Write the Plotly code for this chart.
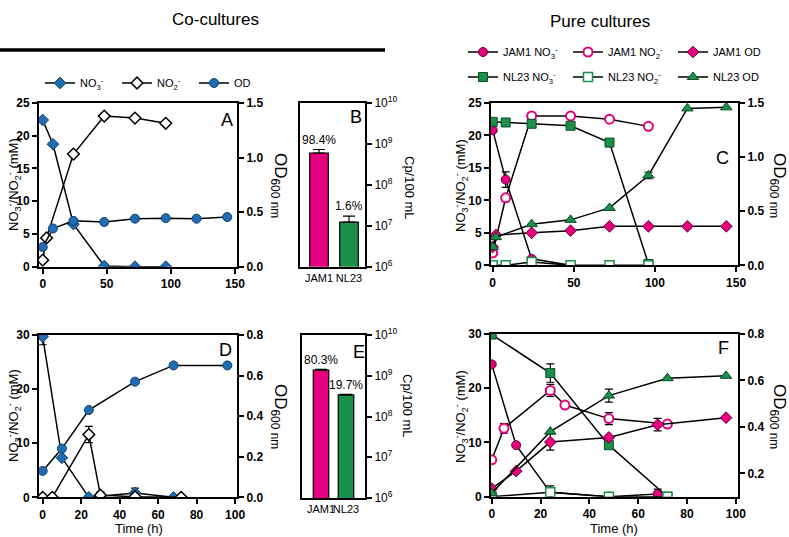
import plotly.graph_objects as go

W, H = 789, 537
MAG = "#E5007D"
GRN = "#1B9048"
BLU = "#1F6DB3"
FONT = "Arial, Liberation Sans, sans-serif"

# --- panel A: co-culture, first run
a_t_no3 = [0, 8, 24, 48, 72, 96]
a_no3 = [22.4, 18.7, 6.5, 0.1, 0.0, 0.0]
a_t_no2 = [0, 3, 24, 48, 72, 96]
a_no2 = [1.0, 4.4, 17.2, 23.0, 22.7, 21.9]
a_t_od = [0, 8, 24, 48, 72, 96, 120, 144]
a_od = [0.18, 0.35, 0.42, 0.41, 0.44, 0.445, 0.44, 0.455]

# --- panels B / E: qPCR copies
strains = ["JAM1", "NL23"]
b_cp = [6.0e8, 1.23e7]
b_err = [1.3e8, 5.0e6]
b_pct = ["98.4%", "1.6%"]
e_cp = [1.38e9, 3.4e8]
e_err = [0.06e9, 0.12e8]
e_pct = ["80.3%", "19.7%"]

# --- panel C: pure cultures, first run
c_t = [0, 8, 24, 48, 72, 96]
c_jam_no3_t = [0, 8, 24, 48]
c_jam_no3 = [20.8, 13.2, 1.0, 0.0]
c_jam_no3_err = [0, 1.2, 0, 0]
c_jam_no2 = [1.9, 10.4, 23.0, 23.0, 22.5, 21.4]
c_nl_no3 = [22.1, 22.0, 21.8, 21.5, 18.9, 0.2]
c_nl_no2 = [0, 0, 0.5, 0, 0, 0]
c_t_od = [0, 2, 24, 48, 72, 96, 120, 144]
c_jam_od = [0.17, 0.28, 0.30, 0.32, 0.36, 0.36, 0.36, 0.36]
c_nl_od = [0.17, 0.26, 0.38, 0.42, 0.53, 0.83, 1.45, 1.46]
c_nl_od_err = [0, 0, 0, 0, 0, 0.03, 0, 0]

# --- panel D: co-culture, second run
d_t_no3 = [0, 10, 24, 48, 68]
d_no3 = [29.7, 7.3, 0.0, 0.8, 0.0]
d_no3_err = [1.5, 0, 0, 0.9, 0]
d_t_no2 = [0, 5, 24, 30, 48, 72]
d_no2 = [0, 0, 11.6, 0.4, 0.1, 0]
d_no2_err = [0, 0, 1.5, 0.6, 0, 0]
d_t_od = [0, 10, 24, 48, 68, 96]
d_od = [0.13, 0.24, 0.43, 0.57, 0.65, 0.65]

# --- panel F: pure cultures, second run
f_jam_no3_t = [0, 10, 24, 48, 68]
f_jam_no3 = [24.4, 9.5, 0.8, 0.0, 0.5]
f_jam_no3_err = [0, 0, 0, 0, 0.9]
f_jam_no2_t = [0, 5, 24, 30, 48, 72]
f_jam_no2 = [6.8, 12.6, 19.6, 16.9, 14.4, 13.4]
f_jam_no2_err = [0, 0.9, 1.1, 0, 1.1, 0]
f_jam_od_t = [0, 10, 24, 48, 68, 96]
f_jam_od = [0.135, 0.21, 0.335, 0.355, 0.41, 0.44]
f_jam_od_err = [0, 0, 0.035, 0, 0.027, 0]
f_nl_t = [0, 24, 48, 72]
f_nl_no3 = [29.9, 22.8, 9.5, 0.0]
f_nl_no3_err = [0, 1.7, 0, 0]
f_nl_no2 = [0, 0.8, 0, 0]
f_nl_no2_err = [0, 1.2, 0, 0]
f_nl_od_t = [0, 24, 48, 72, 96]
f_nl_od = [0.115, 0.38, 0.535, 0.61, 0.62]
f_nl_od_err = [0, 0, 0.028, 0, 0]

NO3 = "NO<sub>3</sub><sup>-</sup>"
NO2 = "NO<sub>2</sub><sup>-</sup>"


def px_x(a, b):
    return [a / W, b / W]


def px_y(top, bottom):
    return [1 - bottom / H, 1 - top / H]


def series(x, y, xa, ya, symbol, fill, edge, ew=1, size=9, name=None, legend=None, err=None):
    tr = go.Scatter(
        x=x, y=y, xaxis=xa, yaxis=ya, mode="lines+markers", name=name,
        showlegend=name is not None, line=dict(color="black", width=1.5),
        marker=dict(symbol=symbol, size=size, color=fill, line=dict(color=edge, width=ew)),
    )
    if legend:
        tr.legend = legend
    if err is not None:
        tr.error_y = dict(type="data", array=err, color="black", thickness=1.2, width=4)
    return tr


fig = go.Figure()

# A
fig.add_trace(series(a_t_no3, a_no3, "x", "y", "diamond", BLU, "#123f6b", name=NO3, legend="legend"))
fig.add_trace(series(a_t_no2, a_no2, "x", "y", "diamond", "white", "black", ew=1.5, name=NO2, legend="legend"))
fig.add_trace(series(a_t_od, a_od, "x", "y2", "circle", BLU, "#123f6b", name="OD", legend="legend"))

# B / E
for xa, ya, vals, err in [("x2", "y3", b_cp, b_err), ("x5", "y8", e_cp, e_err)]:
    fig.add_trace(go.Bar(
        x=strains, y=vals, xaxis=xa, yaxis=ya, showlegend=False,
        marker=dict(color=[MAG, GRN], line=dict(color="black", width=1.2)),
        error_y=dict(type="data", array=err, arrayminus=[0, 0], symmetric=False,
                     color="black", thickness=1.2, width=6),
    ))

# C
fig.add_trace(series(c_jam_no3_t, c_jam_no3, "x3", "y4", "circle", MAG, "#6a0038",
                     name="JAM1 " + NO3, legend="legend2", err=c_jam_no3_err))
fig.add_trace(series(c_t, c_jam_no2, "x3", "y4", "circle", "white", MAG, ew=2,
                     name="JAM1 " + NO2, legend="legend2"))
fig.add_trace(series(c_t, c_nl_no3, "x3", "y4", "square", GRN, "#0d4a25",
                     name="NL23 " + NO3, legend="legend3"))
fig.add_trace(series(c_t, c_nl_no2, "x3", "y4", "square", "white", GRN, ew=1.5,
                     name="NL23 " + NO2, legend="legend3"))
fig.add_trace(series(c_t_od, c_jam_od, "x3", "y5", "diamond", MAG, "#6a0038",
                     name="JAM1 OD", legend="legend2"))
fig.add_trace(series(c_t_od, c_nl_od, "x3", "y5", "triangle-up", GRN, "#0d4a25", size=10,
                     name="NL23 OD", legend="legend3", err=c_nl_od_err))

# D
fig.add_trace(series(d_t_no3, d_no3, "x4", "y6", "diamond", BLU, "#123f6b", err=d_no3_err))
fig.add_trace(series(d_t_no2, d_no2, "x4", "y6", "diamond", "white", "black", ew=1.5, err=d_no2_err))
fig.add_trace(series(d_t_od, d_od, "x4", "y7", "circle", BLU, "#123f6b"))

# F
fig.add_trace(series(f_jam_no3_t, f_jam_no3, "x6", "y9", "circle", MAG, "#6a0038", err=f_jam_no3_err))
fig.add_trace(series(f_jam_no2_t, f_jam_no2, "x6", "y9", "circle", "white", MAG, ew=2, err=f_jam_no2_err))
fig.add_trace(series(f_nl_t, f_nl_no3, "x6", "y9", "square", GRN, "#0d4a25", err=f_nl_no3_err))
fig.add_trace(series(f_nl_t, f_nl_no2, "x6", "y9", "square", "white", GRN, ew=1.5, err=f_nl_no2_err))
fig.add_trace(series(f_jam_od_t, f_jam_od, "x6", "y10", "diamond", MAG, "#6a0038", err=f_jam_od_err))
fig.add_trace(series(f_nl_od_t, f_nl_od, "x6", "y10", "triangle-up", GRN, "#0d4a25", size=10, err=f_nl_od_err))

tickfont = dict(family=FONT, size=12, color="black", weight="bold")
base = dict(showline=True, linecolor="black", linewidth=2, ticks="outside", ticklen=5,
            tickwidth=2, tickcolor="black", showgrid=False, zeroline=False, tickfont=tickfont,
            automargin=False)


def xax(dom, rng, ticks, anchor):
    return dict(base, domain=dom, range=rng, tickvals=ticks, anchor=anchor, mirror=True)


def yax(dom, rng, ticks, anchor, fmt=None, side="left", overlay=None):
    d = dict(base, domain=dom, range=rng, tickvals=ticks, anchor=anchor, side=side)
    if fmt:
        d["tickformat"] = fmt
    if overlay:
        d["overlaying"] = overlay
    return d


top_y = px_y(103, 266.7)
bot_y = px_y(335, 497.3)
logticks = [1e6, 1e7, 1e8, 1e9, 1e10]
logtext = ["10<sup>%d</sup>" % k for k in range(6, 11)]


def logax(dom, anchor):
    return dict(base, domain=dom, type="log", range=[6, 10], tickvals=logticks, ticktext=logtext,
                anchor=anchor, side="right", mirror=True,
                tickfont=dict(family=FONT, size=12, color="black"))


def catax(dom, anchor):
    return dict(base, domain=dom, anchor=anchor, mirror=True, ticks="", tickangle=0,
                tickfont=dict(family=FONT, size=11, color="black"))


fig.update_layout(
    template="none",
    xaxis=xax(px_x(39, 237), [-2.9, 151.6], [0, 50, 100, 150], "y"),
    yaxis=yax(top_y, [0, 25], [0, 5, 10, 15, 20, 25], "x"),
    yaxis2=yax(top_y, [0, 1.5], [0, 0.5, 1.0, 1.5], "x", ".1f", "right", "y"),
    xaxis2=catax(px_x(300, 365), "y3"),
    yaxis3=logax(px_y(103, 266.7), "x2"),
    xaxis3=xax(px_x(491, 738), [-1.05, 151.2], [0, 50, 100, 150], "y4"),
    yaxis4=yax(px_y(103, 265.3), [0, 25], [0, 5, 10, 15, 20, 25], "x3"),
    yaxis5=yax(px_y(103, 265.3), [0, 1.5], [0, 0.5, 1.0, 1.5], "x3", ".1f", "right", "y4"),
    xaxis4=xax(px_x(39, 237), [-1.9, 101.0], [0, 20, 40, 60, 80, 100], "y6"),
    yaxis6=yax(bot_y, [0, 30], [0, 10, 20, 30], "x4"),
    yaxis7=yax(bot_y, [0, 0.8], [0, 0.2, 0.4, 0.6, 0.8], "x4", ".1f", "right", "y6"),
    xaxis5=catax(px_x(302, 365), "y8"),
    yaxis8=logax(px_y(335, 498), "x5"),
    xaxis6=xax(px_x(491, 738), [-0.3, 100.9], [0, 20, 40, 60, 80, 100], "y9"),
    yaxis9=yax(px_y(334, 496.7), [0, 30], [0, 10, 20, 30], "x6"),
    yaxis10=yax(px_y(334, 496.7), [0.1, 0.8], [0.2, 0.4, 0.6, 0.8], "x6", ".1f", "right", "y9"),
    bargap=0.38,
)

leg = dict(orientation="h", yanchor="middle", xanchor="left", bgcolor="rgba(0,0,0,0)",
           font=dict(family=FONT, size=11, color="black"), entrywidthmode="pixels",
           itemclick=False, tracegroupgap=0)
fig.update_layout(
    legend=dict(leg, x=40 / W, y=1 - 83 / H, entrywidth=32),
    legend2=dict(leg, x=463 / W, y=1 - 52 / H, entrywidth=60),
    legend3=dict(leg, x=463 / W, y=1 - 77 / H, entrywidth=60),
)

ann = []


def text(x, y, s, size=12, angle=0, xref="paper"):
    ann.append(dict(x=x / W if xref == "paper" else x, y=1 - y / H, xref=xref, yref="paper", text=s,
                    showarrow=False, textangle=angle, xanchor="center", yanchor="middle",
                    font=dict(family=FONT, size=size, color="black")))


left_title = "NO<sub>3</sub><sup>-</sup>/NO<sub>2</sub><sup>-</sup> (mM)"
od_title = "OD<sub>600 nm</sub>"
text(14, 185, left_title, 13, -90)
text(14, 416, left_title, 13, -90)
text(461, 185, left_title, 13, -90)
text(461, 416, left_title, 13, -90)
text(279, 185, od_title, 17, 90)
text(279, 416, od_title, 17, 90)
text(778, 185, od_title, 17, 90)
text(778, 416, od_title, 17, 90)
text(410, 188, "Cp/100 mL", 13, 90)
text(408, 406, "Cp/100 mL", 13, 90)
text(139, 528, "Time (h)", 13)
text(614, 528, "Time (h)", 13)
text(227, 120, "A", 18)
text(356, 117, "B", 18)
text(722, 158, "C", 18)
text(225, 350, "D", 18)
text(359, 352, "E", 18)
text(723, 348, "F", 18)
for i, (s, yy) in enumerate(zip(b_pct, [140, 206])):
    text(i, yy, s, 12, xref="x2")
for i, (s, yy) in enumerate(zip(e_pct, [360, 385])):
    text(i, yy, s, 12, xref="x5")
text(215, 20, "Co-cultures", 17)
text(600, 22, "Pure cultures", 17)

fig.update_layout(
    annotations=ann,
    shapes=[dict(type="line", xref="paper", yref="paper", x0=0, x1=385 / W,
                 y0=1 - 50 / H, y1=1 - 50 / H, line=dict(color="black", width=3.5))],
    width=W, height=H, margin=dict(l=0, r=0, t=0, b=0, autoexpand=False),
    plot_bgcolor="white", paper_bgcolor="white",
    font=dict(family=FONT, color="black"),
)

fig.write_html("out.html", config={"displayModeBar": False},
               post_script="document.body.style.margin='0';")
